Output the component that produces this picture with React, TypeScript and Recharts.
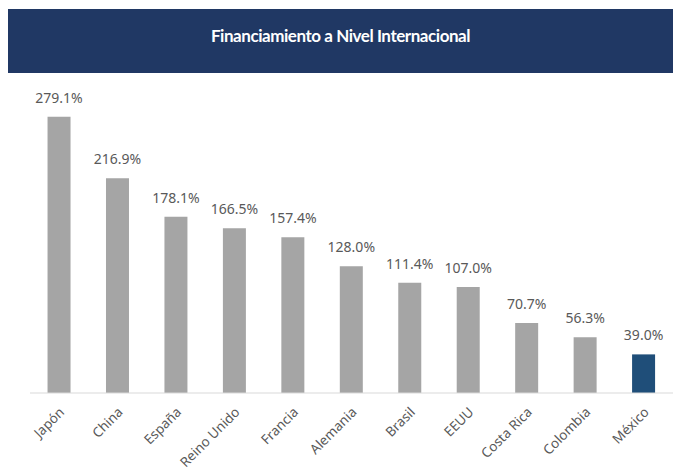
import { Bar, BarChart, Cell, LabelList, XAxis, YAxis } from "recharts";

const countries: string[] = [
  "Japón",
  "China",
  "España",
  "Reino Unido",
  "Francia",
  "Alemania",
  "Brasil",
  "EEUU",
  "Costa Rica",
  "Colombia",
  "México",
];
const financing: number[] = [279.1, 216.9, 178.1, 166.5, 157.4, 128.0, 111.4, 107.0, 70.7, 56.3, 39.0];
const highlight = "México";

const data = countries.map((country, i) => ({
  country,
  value: financing[i],
}));

const FONT = "'Noto Sans', 'DejaVu Sans', sans-serif";

function AngledTick(props: any) {
  const { x, y, payload } = props;
  return (
    <g transform={`translate(${x + 6},${y + 12})`}>
      <text
        textAnchor="end"
        transform="rotate(-45)"
        fill="#595959"
        fontSize={13.5}
        fontFamily={FONT}
      >
        {payload.value}
      </text>
    </g>
  );
}

export default function App() {
  return (
    <div style={{ position: "relative", width: 673, height: 463 }}>
      <div
        style={{
          marginTop: 1,
          width: 673,
          height: 64,
          background: "#203864",
          color: "#ffffff",
          fontFamily: "Lato, sans-serif",
          fontWeight: 700,
          fontSize: 17,
          letterSpacing: -0.45,
          textAlign: "center",
          lineHeight: "53px",
          boxSizing: "border-box",
          paddingRight: 8,
        }}
      >
        Financiamiento a Nivel Internacional
      </div>
      <BarChart
        width={673}
        height={400}
        data={data}
        margin={{ top: 23, right: 8, bottom: 0, left: 22 }}
        barCategoryGap="30%"
        style={{ overflow: "visible" }}
      >
        <XAxis
          dataKey="country"
          interval={0}
          height={80}
          tickLine={false}
          axisLine={{ stroke: "#D9D9D9" }}
          tick={<AngledTick />}
        />
        <YAxis hide domain={[0, 300]} />
        <Bar dataKey="value" fill="#A5A5A5" isAnimationActive={false}>
          {data.map((d) => (
            <Cell key={d.country} fill={d.country === highlight ? "#1F4E79" : "#A5A5A5"} />
          ))}
          <LabelList
            dataKey="value"
            position="top"
            offset={14}
            formatter={(v: any) => `${Number(v).toFixed(1)}%`}
            fill="#595959"
            fontSize={14}
            fontFamily={FONT}
          />
        </Bar>
      </BarChart>
    </div>
  );
}
